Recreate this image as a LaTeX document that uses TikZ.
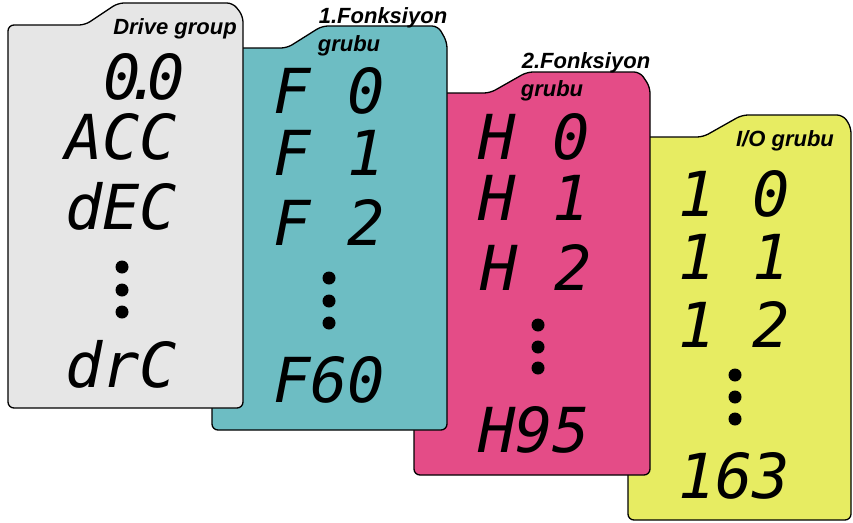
\documentclass[tikz,border=0pt]{standalone}
\usepackage{fontspec}
\setmainfont{Liberation Sans}
\setmonofont{DejaVu Sans Mono}
\definecolor{drivegray}{HTML}{E6E6E6}
\definecolor{functeal}{HTML}{6DBDC3}
\definecolor{funcpink}{HTML}{E44C87}
\definecolor{ioyellow}{HTML}{E7EC62}
\begin{document}
\begin{tikzpicture}[x=1pt,y=-1pt,
	card/.style={draw=black,line width=1.3pt,rounded corners=6pt},
	lcd/.style={font=\fontsize{62}{62}\selectfont\ttfamily\itshape,inner sep=0pt,anchor=west},
	tag/.style={font=\fontsize{22}{22}\selectfont\bfseries\itshape,inner sep=0pt},
	dot/.style={circle,fill=black,inner sep=0pt,minimum size=13pt}]
\useasboundingbox (0,0) rectangle (853,522);
% cards, back to front
\draw[card,fill=ioyellow] (628,520) -- (628,137) -- (703,137) -- (742,115) -- (843,115) -- (851,127) -- (851,520) -- cycle;
\draw[card,fill=funcpink] (414,475) -- (414,93) -- (490,93) -- (527,72) -- (640,72) -- (650,87) -- (650,475) -- cycle;
\draw[card,fill=functeal] (212,430) -- (212,48) -- (287,48) -- (322,26) -- (438,26) -- (447,42) -- (447,430) -- cycle;
\draw[card,fill=drivegray] (8,408) -- (8,25) -- (85,25) -- (118,3) -- (233,3) -- (243,16) -- (243,408) -- cycle;
% group titles
\node[tag] (drive) at (175,29) {Drive group};
\node[tag] (f1title) at (383,18) {1.Fonksiyon};
\node[tag] (f1grubu) at (349,46) {grubu};
\node[tag] (f2title) at (586,63) {2.Fonksiyon};
\node[tag] (f2grubu) at (552,91) {grubu};
\node[tag] (io) at (785,141) {I/O grubu};
% drive group
\node[lcd,anchor=center] (d1) at (144,77) {0\kern-0.25em.\kern-0.25em0};
\node[lcd] (d2) at (65,137) {ACC};
\node[lcd] (d3) at (65,206) {dEC};
\node[dot] (ddot1) at (122,267) {};
\node[dot] (ddot2) at (122,290) {};
\node[dot] (ddot3) at (122,312) {};
\node[lcd] (d4) at (65,364) {drC};
% 1. function group
\node[lcd] (f1) at (273,91) {F 0};
\node[lcd] (f2) at (273,153) {F 1};
\node[lcd] (f3) at (273,222) {F 2};
\node[dot] (fdot1) at (329,278) {};
\node[dot] (fdot2) at (329,301) {};
\node[dot] (fdot3) at (329,323) {};
\node[lcd] (f4) at (273,380) {F60};
% 2. function group
\node[lcd] (h1) at (478,137) {H 0};
\node[lcd] (h2) at (478,198) {H 1};
\node[lcd] (h3) at (480,267) {H 2};
\node[dot] (hdot1) at (538,325) {};
\node[dot] (hdot2) at (538,347) {};
\node[dot] (hdot3) at (538,368) {};
\node[lcd] (h4) at (478,430) {H95};
% I/O group
\node[lcd] (io1) at (678,194) {1 0};
\node[lcd] (io2) at (678,257) {1 1};
\node[lcd] (io3) at (678,324) {1 2};
\node[dot] (iodot1) at (735,375) {};
\node[dot] (iodot2) at (735,397) {};
\node[dot] (iodot3) at (735,419) {};
\node[lcd] (io4) at (678,476) {163};
\end{tikzpicture}
\end{document}
